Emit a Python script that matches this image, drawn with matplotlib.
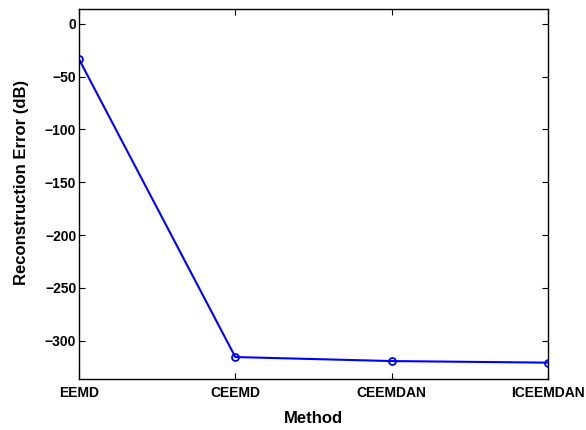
import matplotlib.pyplot as plt

methods = ["EEMD", "CEEMD", "CEEMDAN", "ICEEMDAN"]
error_db = [-33.5, -315.5, -319.3, -320.8]

plt.rcParams['font.family'] = ['Liberation Sans', 'DejaVu Sans']
plt.rcParams['font.weight'] = 'bold'

fig = plt.figure(figsize=(5.86, 4.30), dpi=100)
ax = fig.add_axes([0.1348, 0.1193, 0.8003, 0.8598])

x = list(range(1, len(methods) + 1))
ax.plot(x, error_db, color='#0000ff', lw=1.5, marker='o', ms=5,
        mfc='none', mec='#0000ff', mew=1.3)

ax.set_xlim(1, 4)
ax.set_ylim(-336, 14)
ax.set_xticks(x)
ax.set_xticklabels(methods)
ax.set_yticks([0, -50, -100, -150, -200, -250, -300])
ax.tick_params(direction='in', length=4, width=0.8, labelsize=10,
               top=True, right=True)
ax.tick_params(axis='y', pad=2)
ax.tick_params(axis='x', pad=5)
for s in ax.spines.values():
    s.set_linewidth(1.0)
ax.set_xlabel("Method", fontsize=12, fontweight='bold', labelpad=8)
ax.set_ylabel("Reconstruction Error (dB)", fontsize=12, fontweight='bold')
ax.yaxis.set_label_coords(-0.106, 0.53)

fig.savefig('out.png', dpi=100)
